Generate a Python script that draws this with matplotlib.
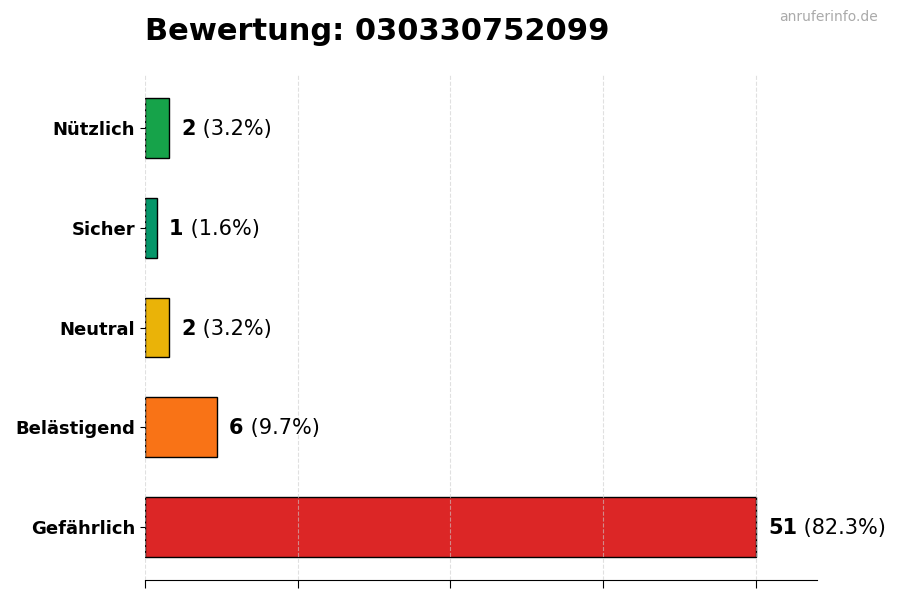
import matplotlib.pyplot as plt

categories = ["Gefährlich", "Belästigend", "Neutral", "Sicher", "Nützlich"]
counts = [51, 6, 2, 1, 2]
colors = ["#dc2626", "#f97316", "#eab308", "#059669", "#16a34a"]
title = "Bewertung: 030330752099"

total = sum(counts)
max_val = max(counts)

fig = plt.figure(figsize=(9, 6), dpi=100)
ax = fig.add_axes([0.161, 0.0333, 0.747, 0.8417])

ax.barh(categories, counts, height=0.6, color=colors, edgecolor="black", linewidth=1)
ax.set_xlim(0, max_val * 1.1)
ax.set_xticks([max_val * i / 4 for i in range(5)])
ax.set_xticklabels([])
ax.tick_params(axis="x", length=6)
ax.tick_params(axis="y", labelsize=13)
for lbl in ax.get_yticklabels():
    lbl.set_fontweight("bold")

ax.grid(axis="x", linestyle="--", color="#cccccc", alpha=0.6, linewidth=0.8)
ax.set_axisbelow(False)
for s in ["top", "right", "left"]:
    ax.spines[s].set_visible(False)

for i, v in enumerate(counts):
    pct = v / total * 100
    t = ax.text(v + max_val * 0.02, i - 0.01, f"{v}", va="center", ha="left",
                fontsize=15, fontweight="bold")
    ax.annotate(f" ({pct:.1f}%)", xycoords=t, xy=(1, 0), va="bottom",
                ha="left", fontsize=15)

fig.text(0.161, 0.933, title, fontsize=22, fontweight="bold", ha="left")
fig.text(0.975, 0.965, "anruferinfo.de", fontsize=10, color="#aaaaaa", ha="right")

fig.savefig("out.png")
